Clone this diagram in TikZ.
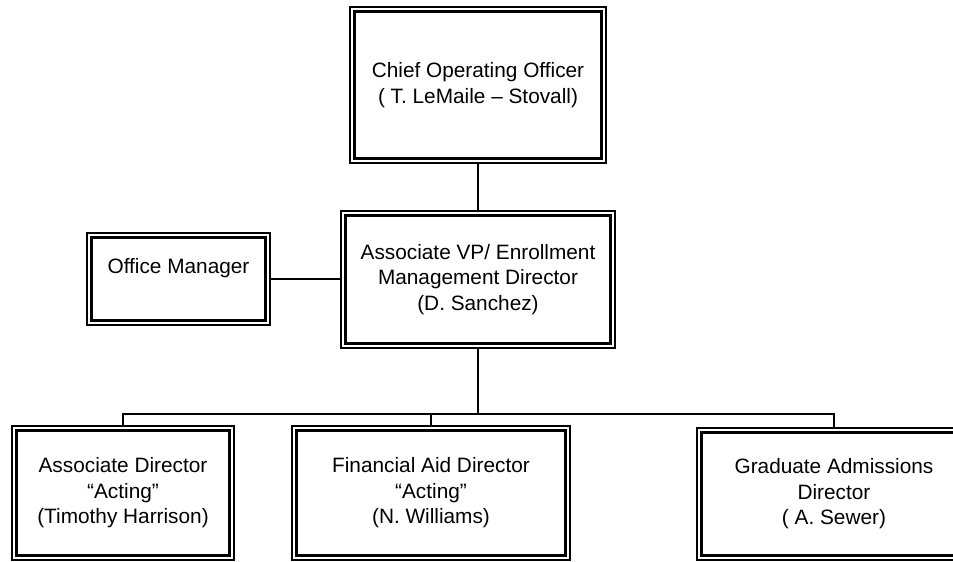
\documentclass[tikz,border=0pt]{standalone}
\usepackage{fontspec}
\setmainfont{Liberation Sans}
\begin{document}
\begin{tikzpicture}[x=1pt,y=-1pt,
  box/.style={draw, line width=1.2pt, inner sep=0pt, align=center,
    font=\fontsize{20.8}{25.5}\selectfont},
  innerline/.style={line width=2.4pt},
  thinline/.style={line width=1.4pt},
  thickline/.style={line width=2.4pt}]
\useasboundingbox (0,0) rectangle (953,562);
\fill[white] (0,0) rectangle (953,562);
\clip (0,0) rectangle (953,562);

\node[box, minimum width=256pt, minimum height=156pt] (coo) at (478,85)
  {Chief Operating Officer\\( T. LeMaile -- Stovall)};
\node[box, minimum width=274pt, minimum height=137pt] (vp) at (478,279.5)
  {Associate VP/ Enrollment\\Management Director\\(D. Sanchez)};
\node[box, minimum width=183pt, minimum height=92pt] (om) at (178.5,279)
  {Office Manager\\\mbox{}};
\node[box, minimum width=222pt, minimum height=134pt] (ad) at (123,493)
  {Associate Director\\“Acting”\\(Timothy Harrison)};
\node[box, minimum width=278pt, minimum height=134pt] (fa) at (431,493)
  {Financial Aid Director\\“Acting”\\(N. Williams)};
\node[box, minimum width=274pt, minimum height=132pt] (gad) at (834,494)
  {Graduate Admissions\\Director\\( A. Sewer)};

\foreach \n in {coo,vp,om,ad,fa,gad}
  \draw[innerline] ([shift={(5,5)}]\n.north west) rectangle ([shift={(-5,-5)}]\n.south east);

\coordinate (bus) at (478,414);
\draw[thinline] (coo.south) -- (vp.north);
\draw[thinline] (om.east) -- (om.east -| vp.west);
\draw[thickline] (vp.south) -- (bus);
\draw[thinline] (ad.north) -- (ad.north |- bus) -- (gad.north |- bus) -- (gad.north);
\draw[thinline] (fa.north) -- (fa.north |- bus);
\end{tikzpicture}
\end{document}
